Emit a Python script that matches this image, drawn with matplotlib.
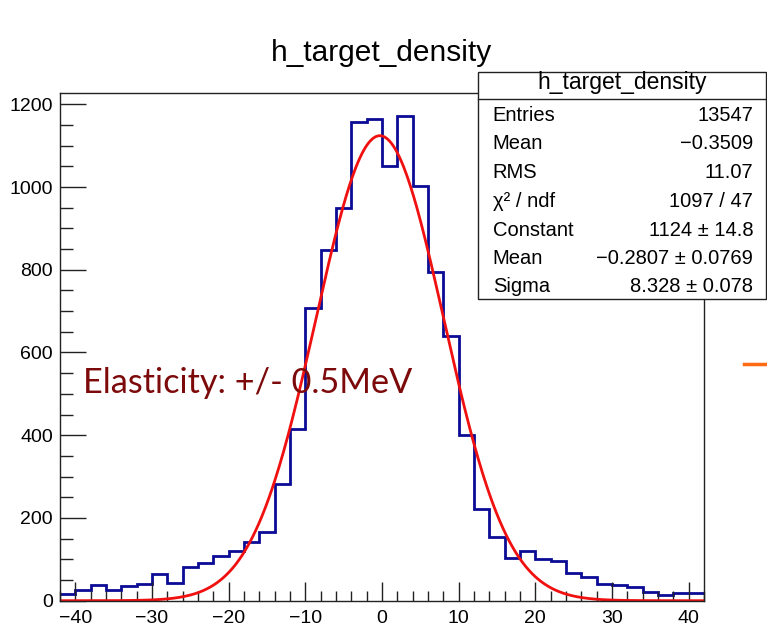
import numpy as np
import matplotlib
matplotlib.use("Agg")
import matplotlib.pyplot as plt
from matplotlib.patches import Rectangle
from matplotlib.lines import Line2D
from matplotlib.ticker import MultipleLocator, FuncFormatter

# ---- histogram data (2-unit bins from -42 to 42) ----
bin_edges = np.arange(-42, 43, 2)
counts = [16, 27, 38, 27, 36, 40, 64, 42, 82, 90, 107, 119, 141, 166,
          282, 415, 707, 848, 949, 1157, 1165, 1050, 1172, 1002, 794, 640,
          400, 222, 155, 103, 121, 101, 96, 68, 57, 40, 38, 32, 20, 14, 18, 18]

# ---- Gaussian fit parameters ----
fit_constant = 1124.0
fit_mean = -0.2807
fit_sigma = 8.328

# ---- statistics box ----
stats_title = "h_target_density"
stats_labels = ["Entries", "Mean", "RMS", "\u03c7\u00b2 / ndf", "Constant", "Mean", "Sigma"]
stats_values = ["13547", "\u22120.3509", "11.07", "1097 / 47",
                "1124 \u00b1 14.8", "\u22120.2807 \u00b1 0.0769", "8.328 \u00b1 0.078"]

x_ticks = [-40, -30, -20, -10, 0, 10, 20, 30, 40]
y_ticks = [0, 200, 400, 600, 800, 1000, 1200]

W, H = 767, 627
DPI = 100
FONT = "Liberation Sans"

fig = plt.figure(figsize=(W / DPI, H / DPI), dpi=DPI, facecolor="white")


def fx(px):
    return px / W


def fy(py):
    return 1 - py / H


ax_left, ax_right, ax_top, ax_bottom = 60, 704, 93.3, 600.7
ax = fig.add_axes([fx(ax_left), fy(ax_bottom),
                   fx(ax_right - ax_left), (ax_bottom - ax_top) / H])

ax.stairs(counts, bin_edges, baseline=None, color="#0b0b96", lw=2.0)

xs = np.linspace(bin_edges[0], bin_edges[-1], 600)
ax.plot(xs, fit_constant * np.exp(-0.5 * ((xs - fit_mean) / fit_sigma) ** 2),
        color="#f01010", lw=2.0)

ax.set_xlim(bin_edges[0], bin_edges[-1])
ax.set_ylim(0, 1226.5)

ax.set_xticks(x_ticks)
ax.set_yticks(y_ticks)
ax.xaxis.set_minor_locator(MultipleLocator(2))
ax.yaxis.set_minor_locator(MultipleLocator(50))
fmt = FuncFormatter(lambda v, p: f"{v:.0f}".replace("-", "\u2212"))
ax.xaxis.set_major_formatter(fmt)
ax.yaxis.set_major_formatter(fmt)

ax.tick_params(axis="both", which="both", direction="in", color="#222222",
               labelsize=14, labelcolor="black", width=1.0)
ax.tick_params(axis="x", which="major", length=14, pad=7)
ax.tick_params(axis="x", which="minor", length=7)
ax.tick_params(axis="y", which="major", length=19, pad=5)
ax.tick_params(axis="y", which="minor", length=9)
for lab in ax.get_xticklabels() + ax.get_yticklabels():
    lab.set_fontfamily(FONT)
for sp in ax.spines.values():
    sp.set_color("#222222")
    sp.set_linewidth(1.0)

# histogram title
fig.text(fx(381.7), fy(60.7), stats_title, ha="center", va="baseline",
         fontsize=21.5, family=FONT, color="black")

# statistics box
bx0, bx1, by0, by1 = 478.3, 765.5, 71.7, 299.3
fig.add_artist(Rectangle((fx(bx0), fy(by1)), fx(bx1 - bx0), (by1 - by0) / H,
                         transform=fig.transFigure, facecolor="white",
                         edgecolor="#222222", lw=1.0, zorder=5))
fig.add_artist(Line2D([fx(bx0), fx(bx1)], [fy(99.3), fy(99.3)],
                      transform=fig.transFigure, color="#222222", lw=1.0, zorder=6))
fig.text(fx((bx0 + bx1) / 2), fy(89.3), stats_title, ha="center", va="baseline",
         fontsize=16.5, family=FONT, color="black", zorder=7)
row_baselines = [120.7, 149.3, 178.3, 206.7, 235.7, 264.0, 292.3]
for lab, val, yb in zip(stats_labels, stats_values, row_baselines):
    fig.text(fx(492.7), fy(yb), lab, ha="left", va="baseline",
             fontsize=14.5, family=FONT, color="black", zorder=7)
    fig.text(fx(753.3), fy(yb), val, ha="right", va="baseline",
             fontsize=14.5, family=FONT, color="black", zorder=7)

# slide annotation, sized to span its target width
note = fig.text(fx(82.7), fy(393.3), "Elasticity: +/- 0.5MeV", ha="left",
                va="baseline", fontsize=30, family=["Lato", "DejaVu Sans"],
                fontweight="normal", color="#7d0a0a", zorder=8)
fig.canvas.draw()
w = note.get_window_extent(fig.canvas.get_renderer()).width
note.set_fontsize(30 * 329.0 / w)

# orange marker at the right edge
fig.add_artist(Line2D([fx(744), fx(767)], [fy(364.3), fy(364.3)],
                      transform=fig.transFigure, color="#ff6a13", lw=2.5, zorder=8))

fig.savefig("out.png", dpi=DPI, facecolor="white")
